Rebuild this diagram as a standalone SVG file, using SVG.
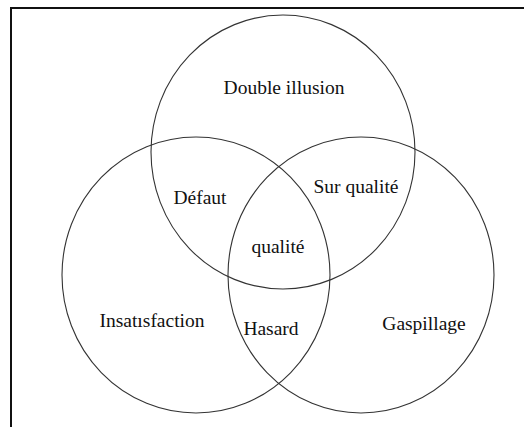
<svg xmlns="http://www.w3.org/2000/svg" width="524" height="427" viewBox="0 0 524 427">
<style>
.frame{fill:none;stroke:#111;stroke-width:2}
.c{fill:none;stroke:#333;stroke-width:1.1}
text{font-family:"Liberation Serif","Times New Roman",serif;font-size:19.5px;fill:#111;text-anchor:middle}
</style>
<rect width="524" height="427" fill="#fff"/>
<path class="frame" d="M11,430 V8 H530"/>
<g id="connectors"></g>
<g id="top"><ellipse class="c" cx="283" cy="152" rx="132" ry="137"/></g>
<g id="left"><ellipse class="c" cx="196" cy="275" rx="134" ry="138"/></g>
<g id="right"><ellipse class="c" cx="361" cy="275" rx="133" ry="138"/></g>
<g id="labels">
<text x="284" y="94">Double illusion</text>
<text x="200" y="204">Défaut</text>
<text x="356" y="193">Sur qualité</text>
<text x="278" y="253">qualité</text>
<text x="152" y="327">Insatısfaction</text>
<text x="271" y="335">Hasard</text>
<text x="424" y="330">Gaspillage</text>
</g>
</svg>
